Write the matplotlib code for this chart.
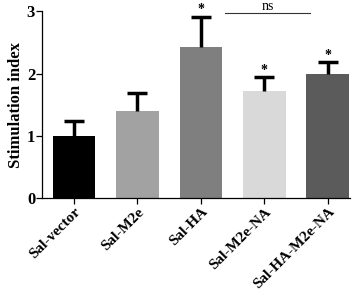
import matplotlib
matplotlib.use("Agg")
import matplotlib.pyplot as plt

categories = ["Sal-vector", "Sal-M2e", "Sal-HA", "Sal-M2e-NA", "Sal-HA-M2e-NA"]
values = [1.0, 1.40, 2.42, 1.72, 1.99]
errors = [0.24, 0.29, 0.49, 0.22, 0.19]
colors = ["#000000", "#a2a2a2", "#7f7f7f", "#d9d9d9", "#5b5b5b"]
stars = ["", "", "*", "*", "*"]

plt.rcParams['font.family'] = ['Liberation Serif', 'DejaVu Serif']
plt.rcParams['font.weight'] = 'bold'

fig = plt.figure(figsize=(3.6, 2.96), dpi=100)
ax = fig.add_axes([0.117, 0.33, 0.855, 0.632])

x = list(range(len(categories)))
ax.bar(x, values, width=0.67, color=colors, edgecolor='none', zorder=2)
eb = ax.errorbar(x, values, yerr=[[0]*len(x), errors], fmt='none', ecolor='black',
                 elinewidth=2.5, capsize=7.5, capthick=2.5, zorder=3)
caplines = eb[1]
if len(caplines) == 2:
    caplines[0].set_visible(False)
for xi, v, e, s in zip(x, values, errors, stars):
    if s:
        ax.text(xi, v + e + 0.01, s, ha='center', va='bottom', fontsize=10, fontweight='bold')

ax.plot([2.38, 3.72], [2.97, 2.97], color='#333333', lw=0.8, clip_on=False)
ax.text(3.05, 2.975, "ns", ha='center', va='bottom', fontsize=10, fontweight='normal')

ax.set_xlim(-0.5, 4.35)
ax.set_ylim(0, 3)
ax.set_yticks([0, 1, 2, 3])
ax.set_yticklabels(["0", "1", "2", "3"], fontsize=12, fontweight='bold')
ax.set_xticks(x)
ax.set_xticklabels(categories, rotation=45, ha='right', rotation_mode='anchor',
                   fontsize=11, fontweight='bold')
ax.set_ylabel("Stimulation index", fontsize=12, fontweight='bold', labelpad=2)
for sp in ['top', 'right']:
    ax.spines[sp].set_visible(False)
ax.spines['left'].set_linewidth(0.9)
ax.spines['bottom'].set_linewidth(0.9)
ax.tick_params(axis='both', direction='out', length=4, width=0.9, pad=1)

fig.savefig("out.png", dpi=100)
